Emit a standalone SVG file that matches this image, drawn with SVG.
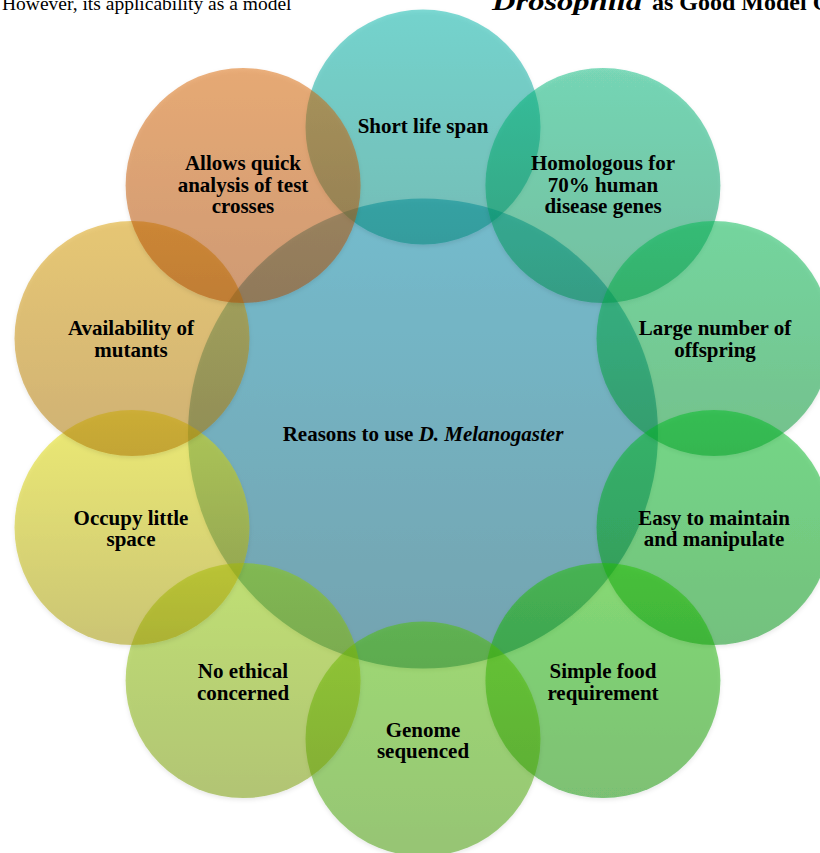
<svg xmlns="http://www.w3.org/2000/svg" width="820" height="853" viewBox="0 0 820 853">
<defs>
<style>
.c{fill-opacity:0.5}
.t{font-family:"Liberation Serif","Times New Roman",serif;font-weight:bold;font-size:21px;fill:#000;text-anchor:middle}
.hdr{font-family:"Liberation Serif","Times New Roman",serif;font-size:19.5px;fill:#000}
.hdr2{font-family:"Liberation Serif","Times New Roman",serif;font-size:24px;font-weight:bold;fill:#000}
</style>
<filter id="sh" x="-10%" y="-10%" width="120%" height="125%">
<feDropShadow dx="0" dy="2" stdDeviation="2" flood-color="#000" flood-opacity="0.18"/>
</filter>
<linearGradient id="g0" x1="0" y1="0" x2="0" y2="1"><stop offset="0" stop-color="#01b5a9"/><stop offset="1" stop-color="#00897d"/></linearGradient>
<linearGradient id="g1" x1="0" y1="0" x2="0" y2="1"><stop offset="0" stop-color="#0db97b"/><stop offset="1" stop-color="#008d51"/></linearGradient>
<linearGradient id="g2" x1="0" y1="0" x2="0" y2="1"><stop offset="0" stop-color="#05b951"/><stop offset="1" stop-color="#00912d"/></linearGradient>
<linearGradient id="g3" x1="0" y1="0" x2="0" y2="1"><stop offset="0" stop-color="#05bd25"/><stop offset="1" stop-color="#019115"/></linearGradient>
<linearGradient id="g4" x1="0" y1="0" x2="0" y2="1"><stop offset="0" stop-color="#21c105"/><stop offset="1" stop-color="#0d9100"/></linearGradient>
<linearGradient id="g5" x1="0" y1="0" x2="0" y2="1"><stop offset="0" stop-color="#51c101"/><stop offset="1" stop-color="#419900"/></linearGradient>
<linearGradient id="g6" x1="0" y1="0" x2="0" y2="1"><stop offset="0" stop-color="#91cd01"/><stop offset="1" stop-color="#759901"/></linearGradient>
<linearGradient id="g7" x1="0" y1="0" x2="0" y2="1"><stop offset="0" stop-color="#e5e101"/><stop offset="1" stop-color="#a59901"/></linearGradient>
<linearGradient id="g8" x1="0" y1="0" x2="0" y2="1"><stop offset="0" stop-color="#d99d00"/><stop offset="1" stop-color="#ad7509"/></linearGradient>
<linearGradient id="g9" x1="0" y1="0" x2="0" y2="1"><stop offset="0" stop-color="#d96501"/><stop offset="1" stop-color="#ad4909"/></linearGradient>
<linearGradient id="gc" x1="0" y1="0" x2="0" y2="1"><stop offset="0" stop-color="#0989a9"/><stop offset="1" stop-color="#005971"/></linearGradient>
</defs>
<rect width="820" height="853" fill="#fff"/>
<g id="header">
<text class="hdr" x="2" y="10">However, its applicability as a model</text>
<text class="hdr2" y="10"><tspan x="492" font-style="italic" font-size="25px" textLength="150" lengthAdjust="spacingAndGlyphs">Drosophila</tspan><tspan x="652">as Good Model O</tspan></text>
</g>
<g id="connectors"/>
<g id="center">
<circle class="c" cx="423" cy="433.5" r="235" fill="url(#gc)" filter="url(#sh)"/>
</g>
<g id="n0"><circle class="c" cx="423" cy="127" r="117.5" fill="url(#g0)" filter="url(#sh)"/></g>
<g id="n1"><circle class="c" cx="602.9" cy="185.4" r="117.5" fill="url(#g1)" filter="url(#sh)"/></g>
<g id="n2"><circle class="c" cx="714" cy="338.4" r="117.5" fill="url(#g2)" filter="url(#sh)"/></g>
<g id="n3"><circle class="c" cx="714" cy="527.6" r="117.5" fill="url(#g3)" filter="url(#sh)"/></g>
<g id="n4"><circle class="c" cx="602.9" cy="680.6" r="117.5" fill="url(#g4)" filter="url(#sh)"/></g>
<g id="n5"><circle class="c" cx="423" cy="739" r="117.5" fill="url(#g5)" filter="url(#sh)"/></g>
<g id="n6"><circle class="c" cx="243.1" cy="680.6" r="117.5" fill="url(#g6)" filter="url(#sh)"/></g>
<g id="n7"><circle class="c" cx="132" cy="527.6" r="117.5" fill="url(#g7)" filter="url(#sh)"/></g>
<g id="n8"><circle class="c" cx="132" cy="338.4" r="117.5" fill="url(#g8)" filter="url(#sh)"/></g>
<g id="n9"><circle class="c" cx="243.1" cy="185.4" r="117.5" fill="url(#g9)" filter="url(#sh)"/></g>
<g id="labels">
<text class="t" x="423" y="441">Reasons to use <tspan font-style="italic">D. Melanogaster</tspan></text>
<text class="t" x="423" y="133">Short life span</text>
<text class="t" x="603" y="170">Homologous for<tspan x="603" y="192">70% human</tspan><tspan x="603" y="213">disease genes</tspan></text>
<text class="t" x="715" y="335">Large number of<tspan x="715" y="357">offspring</tspan></text>
<text class="t" x="714" y="525">Easy to maintain<tspan x="714" y="546">and manipulate</tspan></text>
<text class="t" x="603" y="678">Simple food<tspan x="603" y="700">requirement</tspan></text>
<text class="t" x="423" y="737">Genome<tspan x="423" y="758">sequenced</tspan></text>
<text class="t" x="243" y="678">No ethical<tspan x="243" y="700">concerned</tspan></text>
<text class="t" x="131" y="525">Occupy little<tspan x="131" y="546">space</tspan></text>
<text class="t" x="131" y="335">Availability of<tspan x="131" y="357">mutants</tspan></text>
<text class="t" x="243" y="170">Allows quick<tspan x="243" y="192">analysis of test</tspan><tspan x="243" y="213">crosses</tspan></text>
</g>
</svg>
